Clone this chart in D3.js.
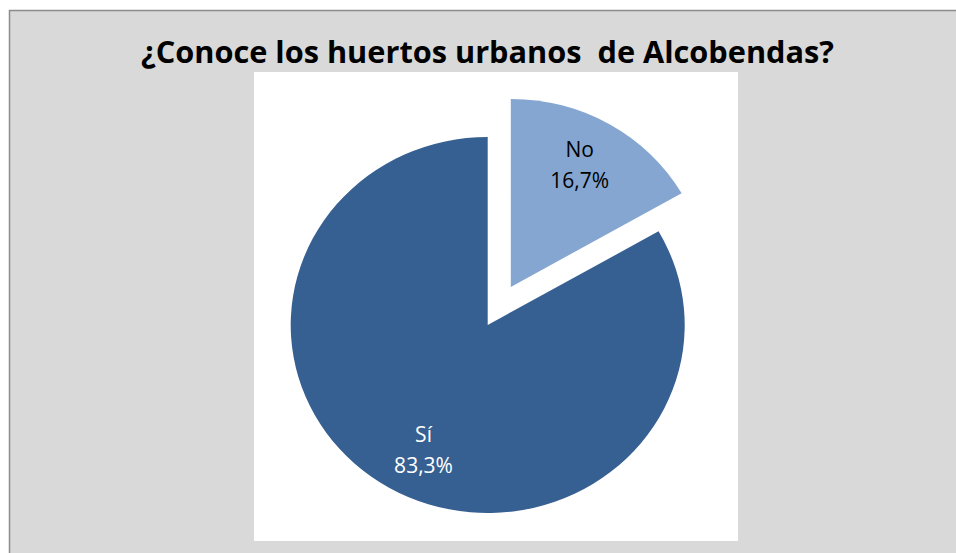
<!doctype html>
<html lang="es">
<head>
<meta charset="utf-8">
<title>¿Conoce los huertos urbanos de Alcobendas?</title>
<script src="https://d3js.org/d3.v7.min.js"></script>
<style>
  html, body { margin: 0; padding: 0; background: #fff; }
  svg { display: block; }
</style>
</head>
<body>
<div id="chart"></div>
<script>
// data
var categorias = ["No", "Sí"];
var valores = [16.7, 83.3];
var etiquetas = ["16,7%", "83,3%"];
var colores = ["#84a6d1", "#376092"];
var colorTexto = ["#000000", "#ffffff"];
var titulo = "¿Conoce los huertos urbanos  de Alcobendas?";

var width = 956, height = 553;

var svg = d3.select("#chart").append("svg")
  .attr("width", width)
  .attr("height", height);

// fondo del grafico
svg.append("rect")
  .attr("x", 9.5).attr("y", 10.5)
  .attr("width", width).attr("height", height)
  .attr("fill", "#d9d9d9")
  .attr("stroke", "#8c8c8c")
  .attr("stroke-width", 1.5);

// area de trazado
svg.append("rect")
  .attr("x", 254).attr("y", 72)
  .attr("width", 484).attr("height", 469)
  .attr("fill", "#ffffff");

svg.append("text")
  .attr("x", 487.5).attr("y", 63)
  .attr("text-anchor", "middle")
  .attr("font-family", "'Open Sans', sans-serif")
  .attr("font-weight", "bold")
  .attr("font-size", 30)
  .attr("textLength", 693)
  .attr("lengthAdjust", "spacingAndGlyphs")
  .style("white-space", "pre")
  .attr("fill", "#000")
  .text(titulo);

var cx = 487.7, cy = 325;
var radio = 188;
var sx = 197 / 188;       // la tarta esta algo estirada en horizontal
var explode = { "No": 44, "Sí": 0 };
var radioEtiqueta = { "No": 144, "Sí": 134 };

var pie = d3.pie().sort(null).value(function(d) { return d.value; });
var datos = categorias.map(function(c, i) {
  return { key: c, value: valores[i], label: etiquetas[i], color: colores[i], tc: colorTexto[i] };
});
var arcos = pie(datos);

var arc = d3.arc().innerRadius(0).outerRadius(radio);

function desplaz(d) {
  var a = (d.startAngle + d.endAngle) / 2;
  var k = explode[d.data.key];
  return [Math.sin(a) * k, -Math.cos(a) * k];
}

var g = svg.append("g")
  .attr("transform", "translate(" + cx + "," + cy + ") scale(" + sx + ",1)");

g.selectAll("path")
  .data(arcos)
  .enter()
  .append("path")
  .attr("d", arc)
  .attr("transform", function(d) {
    var o = desplaz(d);
    return "translate(" + o[0] + "," + o[1] + ")";
  })
  .attr("fill", function(d) { return d.data.color; });

var lab = svg.selectAll("g.lab")
  .data(arcos)
  .enter()
  .append("g")
  .attr("class", "lab")
  .attr("transform", function(d) {
    var a = (d.startAngle + d.endAngle) / 2 - 0.05;
    var r = radioEtiqueta[d.data.key];
    var o = desplaz(d);
    var x = Math.sin(a) * r + o[0];
    var y = -Math.cos(a) * r + o[1];
    return "translate(" + (cx + x * sx) + "," + (cy + y) + ")";
  });

lab.append("text")
  .attr("text-anchor", "middle")
  .attr("y", -2)
  .attr("font-family", "'Open Sans', sans-serif")
  .attr("font-size", 21)
  .attr("fill", function(d) { return d.data.tc; })
  .text(function(d) { return d.data.key; });

lab.append("text")
  .attr("text-anchor", "middle")
  .attr("y", 29)
  .attr("font-family", "'Open Sans', sans-serif")
  .attr("font-size", 21)
  .attr("fill", function(d) { return d.data.tc; })
  .text(function(d) { return d.data.label; });
</script>
</body>
</html>
